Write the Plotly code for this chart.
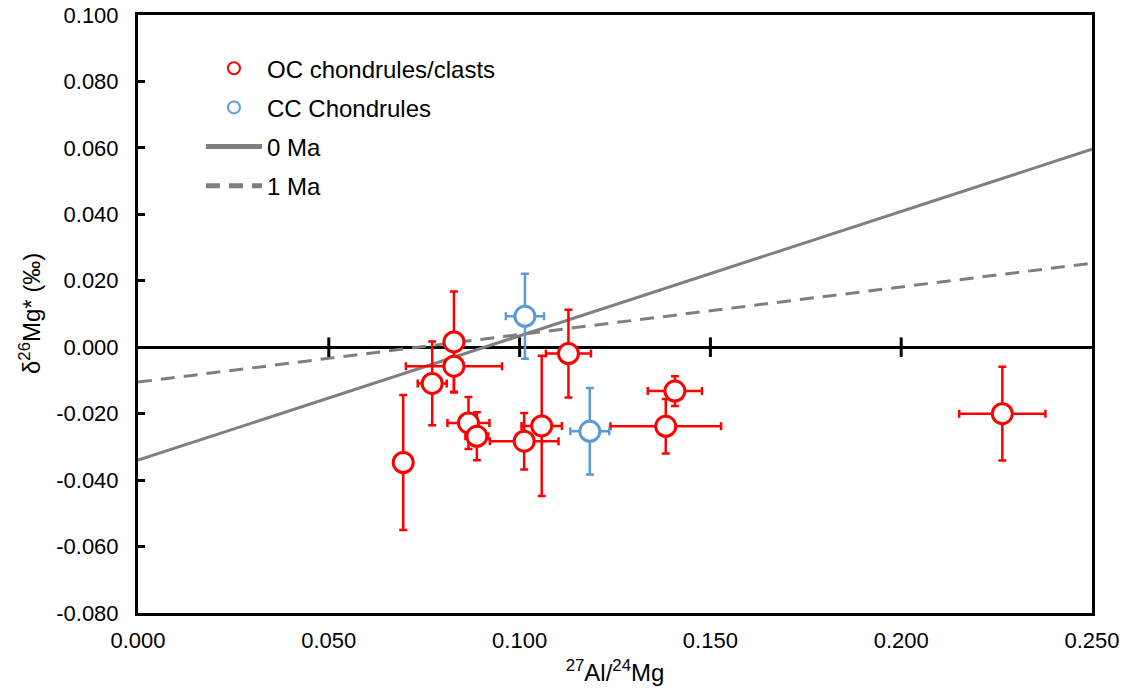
import plotly.graph_objects as go

# OC chondrules/clasts
oc_x = [0.0695, 0.0771, 0.0828, 0.0828, 0.0866, 0.0888, 0.1012, 0.1058, 0.1128, 0.1383, 0.1407, 0.2265]
oc_y = [-0.0347, -0.0109, 0.0016, -0.0057, -0.0228, -0.0268, -0.0283, -0.0237, -0.0019, -0.0238, -0.0132, -0.0200]
oc_yerr = [0.0203, 0.0126, 0.0152, 0.0077, 0.0078, 0.0072, 0.0085, 0.0211, 0.0132, 0.0082, 0.0045, 0.0141]
oc_xerr = [0.0, 0.0038, 0.0, 0.0126, 0.0055, 0.0030, 0.0090, 0.0053, 0.0059, 0.0145, 0.0071, 0.0113]

# CC chondrules
cc_x = [0.1014, 0.1184]
cc_y = [0.0093, -0.0253]
cc_yerr = [0.0128, 0.0130]
cc_xerr = [0.0050, 0.0051]

# isochron reference lines
iso_x = [0.0, 0.25]
iso0_y = [-0.0340, 0.0596]
iso1_y = [-0.0105, 0.0253]

xticks = [0.0, 0.05, 0.10, 0.15, 0.20, 0.25]
xticklabels = ["0.000", "0.050", "0.100", "0.150", "0.200", "0.250"]
yticks = [-0.08, -0.06, -0.04, -0.02, 0.0, 0.02, 0.04, 0.06, 0.08, 0.10]
yticklabels = ["-0.080", "-0.060", "-0.040", "-0.020", "0.000",
               "0.020", "0.040", "0.060", "0.080", "0.100"]
inner_ticks_x = [0.05, 0.10, 0.15, 0.20]
inner_ticks_y = [0.0, 0.0, 0.0, 0.0]

RED = "#FF0000"
BLUE = "#5B9BD5"
GRAY = "#7F7F7F"
FONT = "Liberation Sans, Arial, sans-serif"

fig = go.Figure()

fig.add_trace(go.Scatter(
    x=iso_x, y=iso0_y, mode="lines", name="0 Ma", legendrank=3, legendgroup="c",
    line=dict(color=GRAY, width=3)))
fig.add_trace(go.Scatter(
    x=iso_x, y=iso1_y, mode="lines", name="1 Ma", legendrank=4, legendgroup="d",
    line=dict(color=GRAY, width=3, dash="14px,9px")))

# tick marks on the zero line
fig.add_trace(go.Scatter(
    x=inner_ticks_x, y=inner_ticks_y, mode="markers", showlegend=False,
    hoverinfo="skip",
    marker=dict(symbol="line-ns", size=14, line=dict(color="black", width=3))))

fig.add_trace(go.Scatter(
    x=oc_x, y=oc_y, mode="markers", name="OC chondrules/clasts", legendrank=1, legendgroup="a",
    marker=dict(symbol="circle", size=20, color="white", line=dict(color=RED, width=3)),
    error_y=dict(type="data", array=oc_yerr, color=RED, thickness=2.5, width=4),
    error_x=dict(type="data", array=oc_xerr, color=RED, thickness=2.5, width=4)))
fig.add_trace(go.Scatter(
    x=cc_x, y=cc_y, mode="markers", name="CC Chondrules", legendrank=2, legendgroup="b",
    marker=dict(symbol="circle", size=20, color="white", line=dict(color=BLUE, width=3)),
    error_y=dict(type="data", array=cc_yerr, color=BLUE, thickness=2.5, width=4),
    error_x=dict(type="data", array=cc_xerr, color=BLUE, thickness=2.5, width=4)))

fig.update_layout(
    width=1135, height=696,
    margin=dict(l=138, r=43, t=15, b=83, autoexpand=False),
    paper_bgcolor="white", plot_bgcolor="white",
    font=dict(family=FONT, size=22, color="black"),
    legend=dict(
        x=0.066, y=0.948, xanchor="left", yanchor="top",
        traceorder="grouped", bgcolor="rgba(0,0,0,0)",
        font=dict(size=24), itemwidth=56, tracegroupgap=5,
        itemsizing="constant",
    ),
    annotations=[dict(
        text="δ<sup>26</sup>Mg* (‰)", textangle=-90,
        xref="paper", yref="paper", x=(30 - 138) / 954, y=0.5,
        xanchor="center", yanchor="middle", showarrow=False,
        font=dict(size=24, family=FONT))],
)

fig.update_xaxes(
    range=[0, 0.25], tickvals=xticks, ticktext=xticklabels, automargin=False,
    showgrid=False, zeroline=False,
    showline=True, linecolor="black", linewidth=3, mirror=True,
    ticks="", tickfont=dict(size=22), ticklabelstandoff=6,
    title=dict(text="<sup>27</sup>Al/<sup>24</sup>Mg", font=dict(size=24), standoff=12),
)
fig.update_yaxes(
    range=[-0.08, 0.10], tickvals=yticks, ticktext=yticklabels, automargin=False,
    showgrid=False, zeroline=True, zerolinecolor="black", zerolinewidth=3,
    showline=True, linecolor="black", linewidth=3, mirror=True,
    ticks="inside", ticklen=7, tickwidth=3, tickcolor="black",
    tickfont=dict(size=22), ticklabelstandoff=12,
)

fig.write_html("out.html")
